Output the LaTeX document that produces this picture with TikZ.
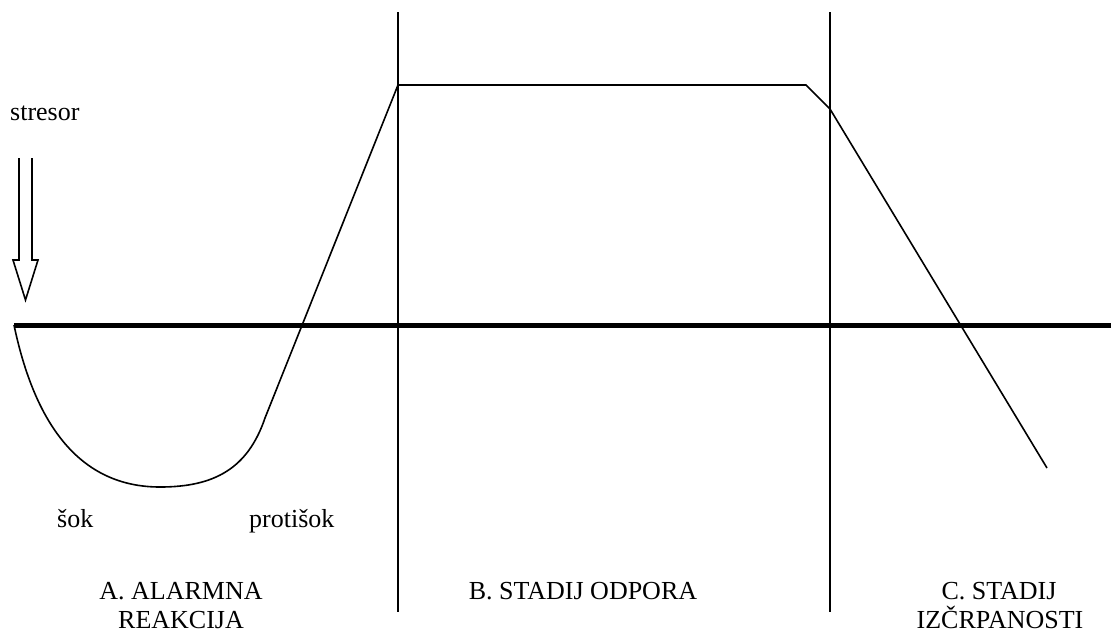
\documentclass[tikz,border=0pt]{standalone}
\usepackage{fontspec}
\setmainfont{Liberation Serif}
\begin{document}
\begin{tikzpicture}[x=1pt,y=-1pt,
  lbl/.style={inner sep=0pt,font=\fontsize{26}{31}\selectfont},
  thin/.style={line width=1.6pt,line join=miter},
  divider/.style={line width=1.8pt},
  axisline/.style={line width=5pt}]
\useasboundingbox (0,0) rectangle (1111,633);
% coordinates
\coordinate (ax0) at (14,325);
\coordinate (ax1) at (1111,325);
\coordinate (v1t) at (398,12);
\coordinate (v1b) at (398,612);
\coordinate (v2t) at (830,12);
\coordinate (v2b) at (830,612);
\coordinate (low) at (160,487);
\coordinate (rise) at (265,418);
\coordinate (top1) at (398,85);
\coordinate (top2) at (806,85);
\coordinate (kink) at (830,109);
\coordinate (endc) at (1047,468);
% dividers
\draw[divider] (v1t) -- (v1b);
\draw[divider] (v2t) -- (v2b);
% axis
\draw[axisline] (ax0) -- (ax1);
% response curve
\draw[thin] (ax0) .. controls (35,425) and (80,487) .. (low)
  .. controls (215,487) and (248,468) .. (rise)
  -- (top1) -- (top2) -- (kink) -- (endc);
% hollow stressor arrow
\draw[thin] (19,158) -- (19,260) -- (13,260) -- (25.5,300) -- (38,260) -- (32,260) -- (32,158);
% labels
\node[lbl,anchor=base west] (stresor) at (10,120) {stresor};
\node[lbl,anchor=base west] (sok) at (57,527) {šok};
\node[lbl,anchor=base west] (protisok) at (249,527) {protišok};
\node[lbl,anchor=base] (a1) at (181,599) {A. ALARMNA};
\node[lbl,anchor=base] (a2) at (181,628) {REAKCIJA};
\node[lbl,anchor=base] (b1) at (583,599) {B. STADIJ ODPORA};
\node[lbl,anchor=base] (c1) at (999,599) {C. STADIJ};
\node[lbl,anchor=base] (c2) at (1000,628) {IZČRPANOSTI};
\end{tikzpicture}
\end{document}
